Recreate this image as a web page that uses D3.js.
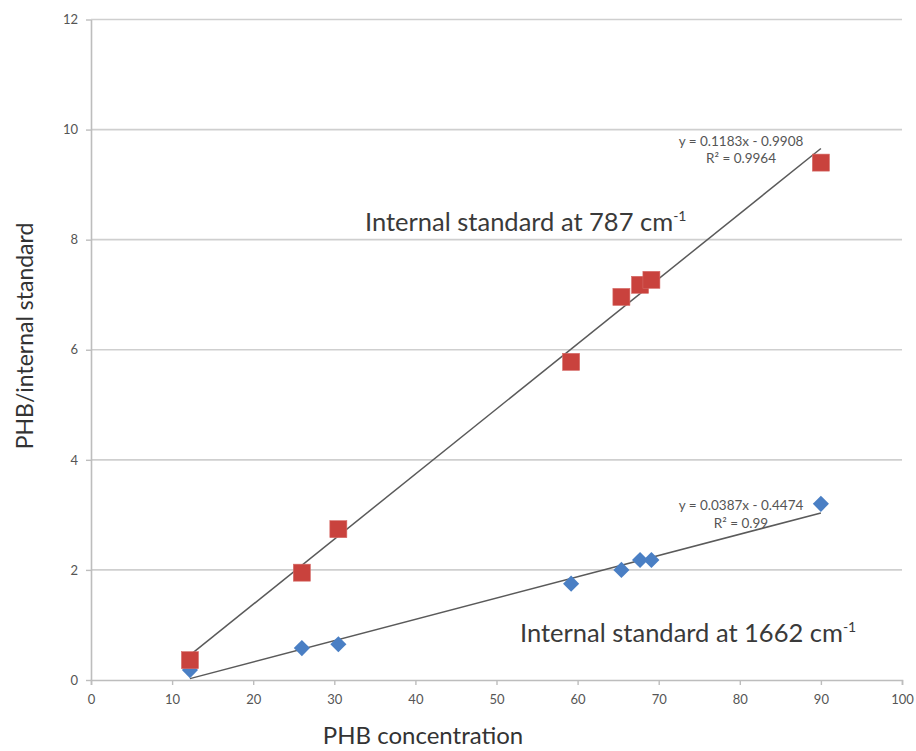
<!DOCTYPE html>
<html><head><meta charset="utf-8">
<script src="https://cdn.jsdelivr.net/npm/d3@7"></script>
<style>body{margin:0;background:#fff;}svg{display:block;}</style>
</head><body>
<svg id="c" width="916" height="751"></svg>
<script>
const phbConc = [12.2, 26.0, 30.5, 59.2, 65.4, 67.7, 69.1, 90.0];
const ratio787 = [0.36, 1.95, 2.74, 5.78, 6.96, 7.18, 7.27, 9.40];
const ratio1662 = [0.18, 0.58, 0.65, 1.75, 2.00, 2.18, 2.18, 3.20];
const fit787 = {slope: 0.1183, intercept: -0.9908, eq: "y = 0.1183x - 0.9908", r2: "R² = 0.9964"};
const fit1662 = {slope: 0.0387, intercept: -0.4474, eq: "y = 0.0387x - 0.4474", r2: "R² = 0.99"};
const xTicks = [0,10,20,30,40,50,60,70,80,90,100];
const yTicks = [0,2,4,6,8,10,12];

const svg = d3.select("#c");
const x = d3.scaleLinear().domain([0,100]).range([91,902]);
const y = d3.scaleLinear().domain([0,12]).range([680,19.5]);
const font = "Lato, 'Open Sans', sans-serif";

// gridlines
svg.append("g").selectAll("line").data(yTicks.filter(d=>d>0)).join("line")
  .attr("x1",x(0)).attr("x2",x(100)).attr("y1",d=>y(d)).attr("y2",d=>y(d))
  .attr("stroke","#cfcfcf").attr("stroke-width",1.6);

// axes
const xAxis = svg.append("g").attr("transform",`translate(0,${y(0)})`)
  .call(d3.axisBottom(x).tickValues(xTicks).tickSize(5).tickSizeOuter(5).tickPadding(10));
const yAxis = svg.append("g").attr("transform",`translate(${x(0)},0)`)
  .call(d3.axisLeft(y).tickValues(yTicks).tickSize(5).tickSizeOuter(0).tickPadding(8));
[xAxis,yAxis].forEach(a=>{
  a.selectAll("path.domain").attr("stroke","#bdbdbd").attr("stroke-width",1.6);
  a.selectAll(".tick line").attr("stroke","#bdbdbd").attr("stroke-width",1.4);
  a.selectAll("text").attr("fill","#555").style("font-family",font).style("font-size","13px");
});

// trendlines
const xmin = d3.min(phbConc), xmax = d3.max(phbConc);
[fit787, fit1662].forEach(f=>{
  svg.append("line")
    .attr("x1",x(xmin)).attr("y1",y(f.slope*xmin+f.intercept))
    .attr("x2",x(xmax)).attr("y2",y(f.slope*xmax+f.intercept))
    .attr("stroke","#5a5a5a").attr("stroke-width",1.5);
});

// markers
const pts787 = phbConc.map((v,i)=>[v,ratio787[i]]);
const pts1662 = phbConc.map((v,i)=>[v,ratio1662[i]]);
svg.append("g").selectAll("path").data(pts1662).join("path")
  .attr("d", d3.symbol().type(d3.symbolSquare).size(130))
  .attr("transform",d=>`translate(${x(d[0])},${y(d[1])}) rotate(45)`)
  .attr("fill","#4a7fc4");
svg.append("g").selectAll("rect").data(pts787).join("rect")
  .attr("x",d=>x(d[0])-8.5).attr("y",d=>y(d[1])-8.5).attr("width",17).attr("height",17)
  .attr("fill","#c9423d").attr("stroke","#d66a66").attr("stroke-width",0.6);

// equations
function eq(f, cx, y1, y2){
  svg.append("text").attr("x",cx).attr("y",y1).attr("text-anchor","middle")
    .attr("fill","#555").style("font-family",font).style("font-size","13.5px").text(f.eq);
  svg.append("text").attr("x",cx).attr("y",y2).attr("text-anchor","middle")
    .attr("fill","#555").style("font-family",font).style("font-size","13.5px").text(f.r2);
}
eq(fit787, 741, 145.5, 162.5);
eq(fit1662, 741, 509.5, 527.5);

// annotations
function ann(txt, xx, yy){
  const t = svg.append("text").attr("x",xx).attr("y",yy).attr("fill","#3a3a3a")
    .style("font-family",font).style("font-size","25.5px");
  t.append("tspan").text(txt);
  t.append("tspan").attr("dy",-10).style("font-size","14px").text("-1");
}
ann("Internal standard at 787 cm", 365, 231);
ann("Internal standard at 1662 cm", 520, 642);

// axis titles
svg.append("text").attr("x",423).attr("y",744).attr("text-anchor","middle")
  .attr("fill","#333").style("font-family",font).style("font-size","24px").text("PHB concentration");
svg.append("text").attr("transform","translate(33,336) rotate(-90)").attr("text-anchor","middle")
  .attr("fill","#333").style("font-family",font).style("font-size","23px").text("PHB/internal standard");
</script>
</body></html>
